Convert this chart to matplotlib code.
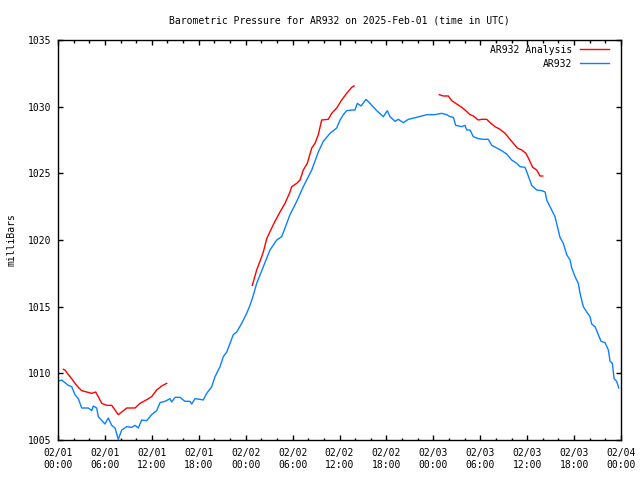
import numpy as np
import pandas as pd
import matplotlib
matplotlib.use("Agg")
import matplotlib.pyplot as plt
import matplotlib.dates as mdates

# ============ data (hours after 2025-02-01 00:00 UTC, millibars) ============
START = pd.Timestamp("2025-02-01 00:00")

obs_hours = [0.0, 0.47, 0.9, 1.32, 1.75, 2.17, 2.6, 3.03, 3.88, 4.31, 4.51, 4.95,
             5.15, 6.01, 6.43, 6.87, 7.29, 7.71, 8.15, 8.79, 9.43, 9.85, 10.27,
             10.7, 11.34, 11.98, 12.62, 13.05, 13.68, 14.32, 14.54, 14.96, 15.6,
             16.24, 16.88, 17.1, 17.52, 18.16, 18.58, 19.02, 19.66, 20.08, 20.72,
             21.14, 21.58, 22.0, 22.42, 22.85, 23.49, 24.13, 24.55, 24.9, 25.41,
             26.26, 27.11, 27.97, 28.61, 29.25, 29.67, 30.53, 31.37, 32.45, 33.29,
             33.93, 34.79, 35.64, 36.07, 36.49, 36.92, 37.56, 37.98, 38.28, 38.75,
             39.39, 39.9, 40.76, 41.6, 42.11, 42.46, 43.1, 43.52, 44.16, 44.8,
             45.87, 47.15, 48.21, 49.07, 49.71, 50.13, 50.56, 50.86, 51.63, 52.05,
             52.27, 52.69, 53.11, 53.75, 54.39, 55.03, 55.47, 56.1, 56.74, 57.38,
             58.02, 58.66, 59.09, 59.72, 60.02, 60.58, 61.22, 61.86, 62.3, 62.5,
             63.14, 63.56, 63.98, 64.2, 64.62, 65.06, 65.48, 65.7, 66.12, 66.54,
             66.76, 67.18, 67.62, 68.04, 68.25, 68.68, 69.1, 69.45, 69.96, 70.38,
             70.6, 70.89, 71.12, 71.45, 71.71]
obs_mb = [1009.4, 1009.5, 1009.3, 1009.1, 1009.0, 1008.4, 1008.1, 1007.4, 1007.4,
          1007.2, 1007.55, 1007.4, 1006.75, 1006.2, 1006.65, 1006.1, 1005.9,
          1005.05, 1005.75, 1006.0, 1005.95, 1006.1, 1005.9, 1006.5, 1006.45,
          1006.9, 1007.2, 1007.8, 1007.9, 1008.1, 1007.85, 1008.2, 1008.2,
          1007.9, 1007.9, 1007.7, 1008.1, 1008.05, 1008.0, 1008.5, 1009.0,
          1009.75, 1010.5, 1011.25, 1011.6, 1012.25, 1012.9, 1013.1, 1013.75,
          1014.5, 1015.1, 1015.7, 1016.75, 1018.0, 1019.25, 1020.0, 1020.25,
          1021.25, 1021.9, 1022.9, 1024.0, 1025.25, 1026.6, 1027.4, 1028.0,
          1028.4, 1029.0, 1029.4, 1029.7, 1029.75, 1029.75, 1030.25, 1030.05,
          1030.55, 1030.25, 1029.7, 1029.25, 1029.7, 1029.25, 1028.9, 1029.05,
          1028.8, 1029.05, 1029.2, 1029.4, 1029.4, 1029.5, 1029.4, 1029.25,
          1029.2, 1028.6, 1028.5, 1028.6, 1028.25, 1028.25, 1027.75, 1027.6,
          1027.55, 1027.55, 1027.1, 1026.9, 1026.7, 1026.45, 1026.0, 1025.75,
          1025.5, 1025.45, 1025.0, 1024.1, 1023.75, 1023.7, 1023.6, 1023.0,
          1022.25, 1021.75, 1020.75, 1020.2, 1019.75, 1018.9, 1018.5, 1017.9,
          1017.25, 1016.75, 1016.0, 1015.0, 1014.6, 1014.25, 1013.7, 1013.5,
          1012.9, 1012.4, 1012.3, 1011.75, 1010.9, 1010.75, 1009.6, 1009.4,
          1008.9]

# analysis comes in three separate runs
ana1_hours = [0.68, 0.9, 1.32, 1.75, 2.17, 2.6, 3.03, 3.67, 4.31, 4.82, 5.15, 5.59,
              6.23, 6.87, 7.29, 7.71, 8.15, 8.79, 9.85, 10.49, 11.13, 11.98, 12.62,
              13.26, 13.9]
ana1_mb = [1010.3, 1010.25, 1009.9, 1009.6, 1009.25, 1008.95, 1008.7, 1008.6,
           1008.5, 1008.6, 1008.25, 1007.75, 1007.6, 1007.6, 1007.25, 1006.9,
           1007.1, 1007.4, 1007.4, 1007.75, 1007.95, 1008.25, 1008.75, 1009.05,
           1009.25]

ana2_hours = [24.85, 25.41, 25.83, 26.26, 26.69, 27.33, 27.75, 28.39, 29.03, 29.67,
              29.89, 30.53, 30.95, 31.37, 31.88, 32.45, 32.87, 33.29, 33.72, 34.57,
              35.0, 35.64, 36.28, 36.92, 37.56, 37.86]
ana2_mb = [1016.6, 1017.75, 1018.4, 1019.1, 1020.1, 1020.9, 1021.4, 1022.1,
           1022.75, 1023.6, 1024.0, 1024.25, 1024.5, 1025.25, 1025.75, 1026.9,
           1027.25, 1027.9, 1029.0, 1029.05, 1029.5, 1029.9, 1030.5, 1031.0,
           1031.45, 1031.55]

ana3_hours = [48.76, 49.28, 49.92, 50.35, 50.99, 51.63, 52.05, 52.69, 53.11, 53.75,
              54.18, 54.83, 55.25, 55.89, 56.53, 57.17, 57.59, 58.23, 58.74, 59.3,
              59.85, 60.27, 60.71, 61.22, 61.64, 61.99]
ana3_mb = [1030.9, 1030.8, 1030.8, 1030.45, 1030.2, 1029.95, 1029.75, 1029.4,
           1029.3, 1029.0, 1029.05, 1029.05, 1028.8, 1028.5, 1028.3, 1028.0,
           1027.7, 1027.25, 1026.9, 1026.75, 1026.5, 1026.0, 1025.45, 1025.25,
           1024.8, 1024.8]

Y_MIN, Y_MAX = 1005, 1035
RED = '#ff0000'
BLUE = '#0a80ff'


def to_time(hours):
    return START + pd.to_timedelta(np.asarray(hours), unit='h')


def main():
    plt.rcParams['font.family'] = ['DejaVu Sans Mono']
    plt.rcParams['font.size'] = 7

    fig = plt.figure(figsize=(6.4, 4.8), dpi=100)
    ax = fig.add_axes([58 / 640, 40 / 480, 563 / 640, 400 / 480])

    ax.plot(to_time(ana1_hours), ana1_mb, color=RED, lw=1.0, label='AR932 Analysis')
    ax.plot(to_time(ana2_hours), ana2_mb, color=RED, lw=1.0)
    ax.plot(to_time(ana3_hours), ana3_mb, color=RED, lw=1.0)
    ax.plot(to_time(obs_hours), obs_mb, color=BLUE, lw=1.0, label='AR932')

    ax.set_xlim(START, START + pd.Timedelta(hours=72))
    ax.set_ylim(Y_MIN, Y_MAX)
    ax.set_yticks(np.arange(Y_MIN, Y_MAX + 1, 5))

    ax.xaxis.set_major_locator(mdates.HourLocator(byhour=range(0, 24, 6)))
    ax.xaxis.set_minor_locator(mdates.HourLocator(byhour=range(0, 24, 2)))
    ax.xaxis.set_major_formatter(mdates.DateFormatter('%m/%d\n%H:%M'))

    ax.tick_params(which='both', direction='in', top=True, right=True,
                   labelsize=7, width=1.0, color='black')
    ax.tick_params(which='major', length=3.6, pad=5)
    ax.tick_params(axis='x', which='major', pad=6)
    ax.tick_params(which='minor', length=1.8)
    for s in ax.spines.values():
        s.set_linewidth(1.0)

    ax.set_ylabel('milliBars', fontsize=7, labelpad=8)
    ax.set_title('Barometric Pressure for AR932 on 2025-Feb-01 (time in UTC)',
                 fontsize=7, pad=12)

    # legend: text right-aligned, sample line on the right, no frame
    ax.legend(loc='upper right', frameon=False, markerfirst=False,
              bbox_to_anchor=(613 / 640, 1 - 41 / 480),
              bbox_transform=fig.transFigure, borderaxespad=0,
              handlelength=3.0, handletextpad=0.8, labelspacing=0.4,
              fontsize=7)

    plt.savefig('out.png', dpi=100)
    plt.close()


if __name__ == "__main__":
    main()
